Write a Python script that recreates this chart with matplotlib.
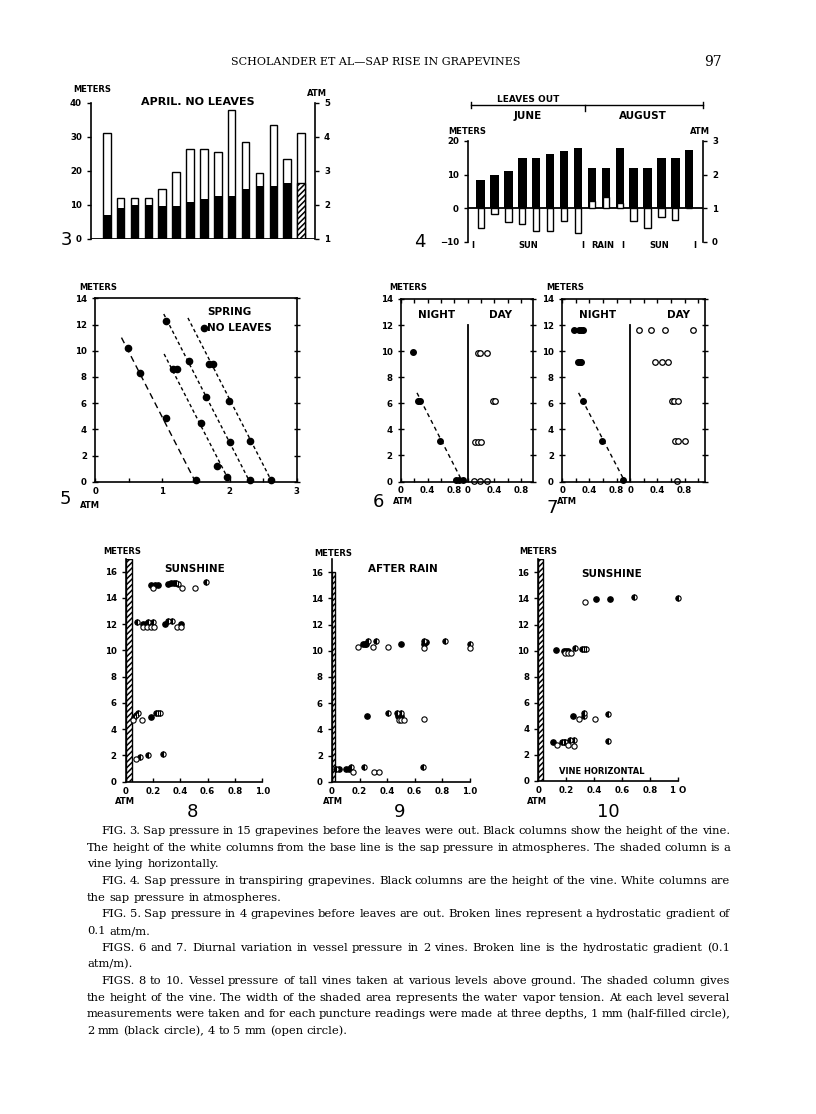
import matplotlib
matplotlib.use('Agg')
import matplotlib.pyplot as plt
import numpy as np
from matplotlib.lines import Line2D

plt.rcParams['font.family'] = ['DejaVu Sans']
plt.rcParams['font.weight'] = 'bold'
plt.rcParams['hatch.linewidth'] = 1.1
plt.rcParams['axes.linewidth'] = 1.2

# ---- data ----
# Fig. 3: height of vine (m) and sap pressure (atm), 15 vines, last one lying horizontally
fig3_height = [7.0, 9.0, 10.0, 10.0, 9.8, 9.8, 10.8, 11.7, 12.7, 12.7, 14.7, 15.6, 15.6, 16.3, 16.3]
fig3_pressure = [4.10, 2.19, 2.19, 2.19, 2.47, 2.96, 3.64, 3.64, 3.54, 4.78, 3.84, 2.93, 4.34, 3.34, 4.12]

# Fig. 4: transpiring vines, June then August
fig4_height = [8.3, 10.0, 11.1, 15.0, 15.0, 16.0, 17.1, 18.0, 12.0, 12.0, 18.0, 12.0, 12.0, 15.0, 15.0, 17.3]
fig4_pressure = [0.42, 0.82, 0.58, 0.52, 0.32, 0.32, 0.62, 0.27, 1.22, 1.32, 1.16, 0.62, 0.42, 0.74, 0.64, 1.0]
fig4_periods = ['I', 'SUN', 'I', 'RAIN', 'I', 'SUN', 'I']

# Fig. 5: four vines (atm, m) and where their broken lines meet the ground
fig5_x = [[0.48, 0.66, 1.05, 1.50],
          [1.06, 1.39, 1.65, 2.01, 2.31],
          [1.16, 1.21, 1.58, 1.82, 1.96],
          [1.62, 1.70, 1.75, 1.99, 2.30, 2.61]]
fig5_y = [[10.2, 8.3, 4.85, 0.13],
          [12.3, 9.25, 6.5, 3.05, 0.15],
          [8.6, 8.6, 4.5, 1.2, 0.35],
          [11.7, 8.95, 8.95, 6.15, 3.1, 0.15]]
fig5_base = [1.49, 2.30, 2.00, 2.63]
fig5_top = [11.0, 12.8, 9.75, 12.5]
gradient = 0.1  # atm per m

# Fig. 6 and 7: night (black) and day (open)
fig6_night_x = [0.175, 0.26, 0.29, 0.585, 0.82, 0.87, 0.93]
fig6_night_y = [9.9, 6.2, 6.2, 3.1, 0.1, 0.1, 0.1]
fig6_day_x = [0.15, 0.185, 0.285, 0.375, 0.41, 0.115, 0.16, 0.2, 0.09, 0.18, 0.29]
fig6_day_y = [9.85, 9.85, 9.85, 6.2, 6.2, 3.05, 3.05, 3.05, 0.05, 0.05, 0.05]
fig7_night_x = [0.17, 0.25, 0.28, 0.30, 0.23, 0.255, 0.28, 0.31, 0.58, 0.89]
fig7_night_y = [11.6, 11.6, 11.6, 11.6, 9.2, 9.2, 9.2, 6.2, 3.1, 0.1]
fig7_day_x = [0.135, 0.3, 0.51, 0.92, 0.37, 0.47, 0.56, 0.61, 0.645, 0.71, 0.66, 0.71, 0.8, 0.685]
fig7_day_y = [11.6, 11.6, 11.6, 11.6, 9.2, 9.2, 9.2, 6.2, 6.2, 6.2, 3.1, 3.1, 3.1, 0.05]

# Figs. 8-10: (atm, m); f = 2 mm black, h = 1 mm half-filled, o = 4-5 mm open
fig8_f = ([0.185, 0.215, 0.234, 0.31, 0.33, 0.35, 0.13, 0.145, 0.175, 0.29, 0.405, 0.185],
          [15.0, 15.0, 15.0, 15.05, 15.15, 15.15, 12.0, 12.0, 12.0, 12.0, 12.05, 4.95])
fig8_h = ([0.37, 0.38, 0.585, 0.08, 0.16, 0.2, 0.31, 0.34, 0.06, 0.075, 0.09, 0.22, 0.235, 0.25, 0.105, 0.16, 0.275],
          [15.15, 15.05, 15.2, 12.18, 12.18, 12.18, 12.26, 12.26, 4.95, 5.1, 5.2, 5.2, 5.2, 5.2, 1.85, 2.05, 2.1])
fig8_o = ([0.2, 0.41, 0.51, 0.13, 0.155, 0.185, 0.21, 0.375, 0.405, 0.05, 0.12, 0.073],
          [14.75, 14.77, 14.77, 11.75, 11.75, 11.75, 11.75, 11.75, 11.75, 4.7, 4.7, 1.75])
fig9_f = ([0.225, 0.24, 0.25, 0.5, 0.67, 0.68, 0.255, 0.48, 0.5, 0.05, 0.105, 0.12],
          [10.5, 10.5, 10.5, 10.5, 10.5, 10.7, 5.0, 5.0, 5.0, 0.95, 0.95, 0.95])
fig9_h = ([0.26, 0.32, 0.665, 0.82, 1.0, 0.405, 0.47, 0.5, 0.03, 0.14, 0.23, 0.66],
          [10.78, 10.75, 10.75, 10.75, 10.5, 5.22, 5.27, 5.27, 0.95, 1.15, 1.15, 1.1])
fig9_o = ([0.19, 0.3, 0.41, 0.665, 1.0, 0.485, 0.5, 0.52, 0.67, 0.155, 0.305, 0.34],
          [10.27, 10.27, 10.27, 10.25, 10.24, 4.75, 4.75, 4.75, 4.78, 0.75, 0.72, 0.72])
fig10_f = ([0.41, 0.512, 0.124, 0.18, 0.195, 0.214, 0.25, 0.107],
           [13.95, 13.95, 10.05, 10.0, 10.0, 9.95, 4.98, 2.97])
fig10_h = ([0.686, 1.0, 0.26, 0.31, 0.326, 0.34, 0.326, 0.326, 0.5, 0.17, 0.18, 0.19, 0.226, 0.255, 0.5],
           [14.1, 14.05, 10.2, 10.15, 10.15, 10.15, 5.0, 5.2, 5.15, 2.97, 2.97, 2.97, 3.12, 3.12, 3.07])
fig10_o = ([0.333, 0.19, 0.21, 0.233, 0.29, 0.405, 0.136, 0.214, 0.257],
           [13.75, 9.78, 9.78, 9.78, 4.73, 4.73, 2.76, 2.76, 2.72])
vine_height = [17.0, 16.0, 17.0]
vapor_tension = [0.044, 0.025, 0.03]

caption = [
    "FIG. 3. Sap pressure in 15 grapevines before the leaves were out. Black columns show the height of the vine.",
    "The height of the white columns from the base line is the sap pressure in atmospheres. The shaded column is a",
    "vine lying horizontally.",
    "FIG. 4. Sap pressure in transpiring grapevines. Black columns are the height of the vine. White columns are",
    "the sap pressure in atmospheres.",
    "FIG. 5. Sap pressure in 4 grapevines before leaves are out. Broken lines represent a hydrostatic gradient of",
    "0.1 atm/m.",
    "FIGS. 6 and 7. Diurnal variation in vessel pressure in 2 vines. Broken line is the hydrostatic gradient (0.1",
    "atm/m).",
    "FIGS. 8 to 10. Vessel pressure of tall vines taken at various levels above ground. The shaded column gives",
    "the height of the vine. The width of the shaded area represents the water vapor tension. At each level several",
    "measurements were taken and for each puncture readings were made at three depths, 1 mm (half-filled circle),",
    "2 mm (black circle), 4 to 5 mm (open circle).",
]
para_start = [0, 3, 5, 7, 9]
para_end = [2, 4, 6, 8, 12]

W, H = 816, 1114
fig = plt.figure(figsize=(W / 100, H / 100), dpi=100)


def box(l, t, r, b):
    return fig.add_axes([l / W, 1 - b / H, (r - l) / W, (b - t) / H])


def put(x, y, s, size=6, ha='center', va='center', **kw):
    return fig.text(x / W, 1 - y / H, s, fontsize=size, ha=ha, va=va, **kw)


def ticks(ax, size=6.2, **kw):
    ax.tick_params(labelsize=size, width=1, **kw)


# ---------- Fig. 3 ----------
ax = box(91, 102.7, 315, 239)
x3 = np.arange(len(fig3_height))
ax2 = ax.twinx()
ax2.bar(x3, np.array(fig3_pressure) - 1, bottom=1, width=0.55, color='white', edgecolor='black', lw=1)
ax.bar(x3[:-1], fig3_height[:-1], width=0.55, color='black')
ax.bar(x3[-1:], fig3_height[-1:], width=0.55, color='white', edgecolor='black', hatch='//////', lw=1)
ax.set_zorder(ax2.get_zorder() + 1)
ax.patch.set_visible(False)
ax.set_xlim(-1.13, 15.0)
ax.set_ylim(0, 40)
ax2.set_ylim(1, 5)
ax.axhline(0, color='black', lw=1.3)
for s in ['top', 'right', 'bottom']:
    ax.spines[s].set_visible(False)
for s in ['top', 'left', 'bottom']:
    ax2.spines[s].set_visible(False)
ax.set_xticks([])
ax.set_yticks([0, 10, 20, 30, 40])
ax2.set_yticks([1, 2, 3, 4, 5])
ticks(ax, length=3)
ticks(ax2, length=3)
put(92, 90, 'METERS')
put(317, 93, 'ATM')
put(198, 102, 'APRIL. NO LEAVES', size=8)
put(66, 240, '3', size=13, weight='normal')

# ---------- Fig. 4 ----------
ax = box(468, 141, 703, 241.7)
x4 = np.arange(len(fig4_height))
ax.bar(x4, fig4_height, width=0.6, color='black')
ax.axhline(0, color='black', lw=1.3)
ax2 = ax.twinx()
ax2.bar(x4, np.array(fig4_pressure) - 1, bottom=1, width=0.45, color='white', edgecolor='black', lw=1)
ax.set_xlim(-0.91, 15.99)
ax.set_ylim(-10, 20)
ax2.set_ylim(0, 3)
for s in ['top', 'right', 'bottom']:
    ax.spines[s].set_visible(False)
for s in ['top', 'left', 'bottom']:
    ax2.spines[s].set_visible(False)
ax.set_xticks([])
ax.set_yticks([-10, 0, 10, 20])
ax2.set_yticks([0, 1, 2, 3])
ticks(ax, length=3)
ticks(ax2, length=3)
for xp, s in zip([473, 528, 583, 603, 623, 659, 695], fig4_periods):
    put(xp, 246, s)
put(528, 99, 'LEAVES OUT', size=6.5)
fig.add_artist(Line2D(np.array([471, 703]) / W, 1 - np.array([105, 105]) / H, color='black', lw=1))
for xp in [471, 703]:
    fig.add_artist(Line2D([xp / W, xp / W], 1 - np.array([102, 108]) / H, color='black', lw=1))
fig.add_artist(Line2D([585 / W, 585 / W], 1 - np.array([105, 111]) / H, color='black', lw=1))
put(528, 116, 'JUNE', size=7.5)
put(643, 116, 'AUGUST', size=7.5)
put(467, 131, 'METERS')
put(700, 131, 'ATM')
put(420, 242, '4', size=13, weight='normal')

# ---------- Fig. 5 ----------
ax = box(95.3, 298.3, 296.7, 481.7)
for xs, ys in zip(fig5_x, fig5_y):
    ax.plot(xs, ys, 'o', color='black', ms=4.5, clip_on=False)
for i, (xb, top) in enumerate(zip(fig5_base, fig5_top)):
    dash = (0, (4.5, 3)) if i == 0 else (0, (2.5, 2))
    ax.plot([xb - gradient * top, xb], [top, 0], ls=dash, color='black', lw=1)
ax.set_xlim(0, 3)
ax.set_ylim(0, 14)
ax.set_xticks([0, 1, 2, 3])
ax.set_xticks([0.5, 1.5, 2.5], minor=True)
ax.set_yticks(range(0, 15, 2))
ticks(ax, direction='in', right=True, length=3)
ax.tick_params(which='minor', direction='in', length=3, width=1)
ax.tick_params(axis='y', direction='inout', length=5)
put(98, 287, 'METERS')
put(207, 312, 'SPRING', size=7.5, ha='left')
put(207, 328, 'NO LEAVES', size=7.5, ha='left')
put(65, 499, '5', size=13, weight='normal')
put(90, 505, 'ATM')


# ---------- Figs. 6 and 7 ----------
def diurnal(l, r, xmax, nx, ny, dx, dy):
    ax = box(l, 299, r, 481.5)
    ax.plot(nx, ny, 'o', color='black', ms=4, clip_on=False)
    ax.plot(np.array(dx) + 1, dy, 'o', mfc='white', mec='black', mew=0.9, ms=4, clip_on=False)
    x0, top, bot = 0.92, 6.8, 0.3
    ax.plot([x0 - gradient * top, x0 - gradient * bot], [top, bot], ls=(0, (3, 2.5)), color='black', lw=1)
    ax.plot([1, 1], [0, 12], color='black', lw=1.3)
    ax.set_xlim(0, xmax)
    ax.set_ylim(0, 14)
    ax.set_xticks([0, 0.4, 0.8, 1.0, 1.4, 1.8])
    ax.set_xticklabels(['0', '0.4', '0.8', '0', '0.4', '0.8'])
    ax.set_xticks(np.arange(0.2, xmax, 0.2), minor=True)
    ax.set_yticks(range(0, 15, 2))
    ticks(ax, direction='in', top=True, right=True, length=3)
    ax.tick_params(which='minor', direction='in', top=True, length=3, width=1)
    ax.tick_params(axis='y', direction='inout', length=5)
    return ax


diurnal(401, 533.3, 1.985, fig6_night_x, fig6_night_y, fig6_day_x, fig6_day_y)
put(408, 288, 'METERS')
put(437, 315, 'NIGHT', size=7.5)
put(500, 315, 'DAY', size=7.5)
put(378, 502, '6', size=13, weight='normal')
put(403, 501, 'ATM')

diurnal(562.3, 705, 2.1, fig7_night_x, fig7_night_y, fig7_day_x, fig7_day_y)
put(565, 288, 'METERS')
put(598, 315, 'NIGHT', size=7.5)
put(678, 315, 'DAY', size=7.5)
put(552, 508, '7', size=13, weight='normal')
put(567, 501, 'ATM')


# ---------- Figs. 8 to 10 ----------
def vessel(l, r, y0, ppm, h_col, w_col, pf, ph, po, last_label):
    ax = box(l, y0 - 17 * ppm, r, y0)
    ax.bar(0, h_col, width=w_col, align='edge', color='white', edgecolor='black', hatch='//////', lw=1)
    ax.plot(pf[0], pf[1], 'o', color='black', ms=3.8, clip_on=False)
    ax.plot(ph[0], ph[1], 'o', fillstyle='left', mfc='black', mfcalt='white', mec='black', mew=0.8, ms=3.8, clip_on=False)
    ax.plot(po[0], po[1], 'o', mfc='white', mec='black', mew=0.8, ms=3.8, clip_on=False)
    for s in ['top', 'right']:
        ax.spines[s].set_visible(False)
    ax.set_xlim(0, 1.0)
    ax.set_ylim(0, 17)
    ax.set_xticks([0, 0.2, 0.4, 0.6, 0.8, 1.0])
    ax.set_xticklabels(['0', '0.2', '0.4', '0.6', '0.8', last_label])
    ax.set_yticks(range(0, 17, 2))
    ticks(ax, length=3)
    ax.tick_params(axis='x', direction='in')
    return ax


vessel(125.7, 262.3, 781.7, 13.125, vine_height[0], vapor_tension[0], fig8_f, fig8_h, fig8_o, '1.0')
put(122, 552, 'METERS')
put(195, 569, 'SUNSHINE', size=7.5)
put(125, 802, 'ATM')
put(192, 812, '8', size=13, weight='normal')

vessel(332, 469.7, 781.7, 13.09, vine_height[1], vapor_tension[1], fig9_f, fig9_h, fig9_o, '1.0')
put(333, 553, 'METERS')
put(403, 569, 'AFTER RAIN', size=7.5)
put(333, 802, 'ATM')
put(400, 812, '9', size=13, weight='normal')

vessel(538.3, 678.3, 781, 13.04, vine_height[2], vapor_tension[2], fig10_f, fig10_h, fig10_o, '1 O')
put(538, 552, 'METERS')
put(612, 574, 'SUNSHINE', size=7.5)
put(602, 771, 'VINE HORIZONTAL', size=6)
put(537, 802, 'ATM')
put(608, 812, '10', size=13, weight='normal')

# ---------- running head ----------
serif = dict(family='DejaVu Serif', weight='normal')
put(376, 62, 'SCHOLANDER ET AL\u2014SAP RISE IN GRAPEVINES', size=8, **serif)
put(713, 62, '97', size=10, **serif)

# ---------- caption, justified ----------
r = fig.canvas.get_renderer()
x_left, x_right, indent = 87, 730, 14

# size the type so the longest full line just fills the measure
probe = put(0, 0, caption[10], size=10, ha='left', **serif)
cap_size = 10 * (x_right - x_left - 4) / probe.get_window_extent(renderer=r).width
probe.remove()

sp_a = put(0, 0, 'a a', size=cap_size, **serif)
sp_b = put(0, 0, 'aa', size=cap_size, **serif)
space = sp_a.get_window_extent(renderer=r).width - sp_b.get_window_extent(renderer=r).width
sp_a.remove()
sp_b.remove()

for i, line in enumerate(caption):
    y = 831 + i * 16.67
    x0 = x_left + (indent if i in para_start else 0)
    words = line.split(' ')
    texts = [put(0, y, w, size=cap_size, ha='left', **serif) for w in words]
    widths = [t.get_window_extent(renderer=r).width for t in texts]
    if i in para_end:
        gap = space
    else:
        gap = (x_right - x0 - sum(widths)) / (len(words) - 1)
    x = x0
    for t, wd in zip(texts, widths):
        t.set_x(x / W)
        x += wd + gap

fig.savefig('out.png', dpi=100)
